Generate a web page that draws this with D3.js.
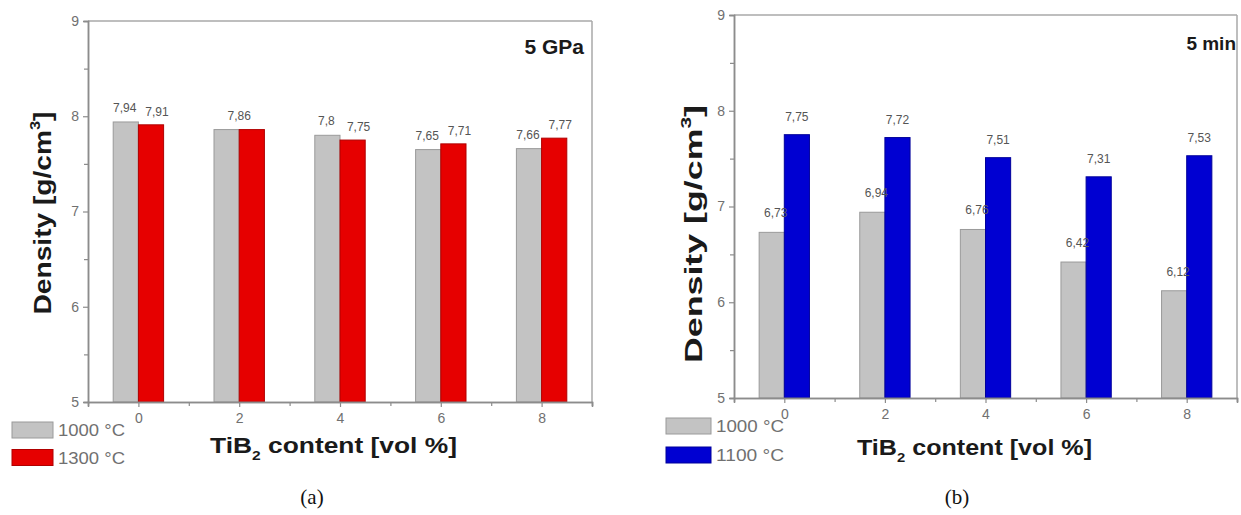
<!DOCTYPE html>
<html>
<head>
<meta charset="utf-8">
<script src="https://cdn.jsdelivr.net/npm/d3@7"></script>
<style>
  html, body { margin: 0; padding: 0; background: #fff; }
  svg { display: block; }
  text { font-family: Arial, "Liberation Sans", sans-serif; }
  text.caption { font-family: "Liberation Serif", "DejaVu Serif", serif; }
</style>
</head>
<body>
<svg id="fig" width="1241" height="515"></svg>
<script>
// TiB2 content categories (vol %)
const categories = [0, 2, 4, 6, 8];

// Panel (a): 5 GPa, sintering at two temperatures
const densityA1000 = [7.94, 7.86, 7.80, 7.65, 7.66];
const densityA1300 = [7.91, 7.86, 7.75, 7.71, 7.77];
const labelsA1000 = ["7,94", "7,86", "7,8", "7,65", "7,66"];
const labelsA1300 = ["7,91", "7,86", "7,75", "7,71", "7,77"];

// Panel (b): 5 min, sintering at two temperatures
const densityB1000 = [6.73, 6.94, 6.76, 6.42, 6.12];
const densityB1100 = [7.75, 7.72, 7.51, 7.31, 7.53];
const labelsB1000 = ["6,73", "6,94", "6,76", "6,42", "6,12"];
const labelsB1100 = ["7,75", "7,72", "7,51", "7,31", "7,53"];

// Axis ticks
const yTicks = [5, 6, 7, 8, 9];
const yMinorTicks = [5.5, 6.5, 7.5, 8.5];
const xTicks = [0, 2, 4, 6, 8];
const xMinorTicks = [1, 3, 5, 7, 9];

const svg = d3.select("#fig");

function drawPanel(p) {
  const x = d3.scaleLinear().domain([-1, 9]).range([p.left, p.right]);
  const y = d3.scaleLinear().domain([5, 9]).range([p.bottom, p.top]);
  const g = svg.append("g");
  const bw = x(0.5) - x(0);

  // frame (top and right)
  g.append("line").attr("x1", p.left).attr("x2", p.right).attr("y1", p.top).attr("y2", p.top)
    .attr("stroke", "#a8a8a8").attr("stroke-width", 1.5);
  g.append("line").attr("x1", p.right).attr("x2", p.right).attr("y1", p.top).attr("y2", p.bottom)
    .attr("stroke", "#a8a8a8").attr("stroke-width", 1.5);

  // bars
  const series = [
    { values: p.s1, color: "#c3c3c3", stroke: "#9a9a9a", offset: -0.5 },
    { values: p.s2, color: p.color2, stroke: p.stroke2, offset: 0 }
  ];
  series.forEach(s => {
    g.selectAll(null).data(categories).enter().append("rect")
      .attr("x", (c) => x(c + s.offset))
      .attr("width", bw)
      .attr("y", (c, i) => y(s.values[i]))
      .attr("height", (c, i) => y(5) - y(s.values[i]))
      .attr("fill", s.color)
      .attr("stroke", s.stroke)
      .attr("stroke-width", 1);
  });

  // axes
  const styleAxis = sel => {
    sel.selectAll("path.domain").attr("stroke", "#8c8c8c").attr("stroke-width", 1.5);
    sel.selectAll(".tick line").attr("stroke", "#8c8c8c").attr("stroke-width", 1.2);
    sel.selectAll(".tick text").attr("fill", "#707070").attr("font-size", 14);
  };
  g.append("g").attr("transform", `translate(${p.left},0)`)
    .call(d3.axisLeft(y).tickValues(yMinorTicks).tickSize(4).tickFormat(""))
    .call(styleAxis);
  g.append("g").attr("transform", `translate(0,${p.bottom})`)
    .call(d3.axisBottom(x).tickValues(xMinorTicks).tickSize(4).tickFormat(""))
    .call(styleAxis);
  g.append("g").attr("transform", `translate(${p.left},0)`)
    .call(d3.axisLeft(y).tickValues(yTicks).tickSize(5).tickPadding(4).tickFormat(d3.format("d")))
    .call(styleAxis);
  g.append("g").attr("transform", `translate(0,${p.bottom})`)
    .call(d3.axisBottom(x).tickValues(xTicks).tickSize(5).tickPadding(6).tickFormat(d3.format("d")))
    .call(styleAxis);

  // value labels (one shared label when both bars are equal)
  const lab = g.append("g").attr("fill", "#555").attr("font-size", 12).attr("text-anchor", "middle");
  categories.forEach((c, i) => {
    if (p.s1[i] === p.s2[i]) {
      lab.append("text").attr("x", x(c)).attr("y", y(p.s1[i]) - p.lift1).text(p.l1[i]);
    } else {
      lab.append("text").attr("x", x(c - 0.25) + p.dx1).attr("y", y(p.s1[i]) - p.lift1).text(p.l1[i]);
      lab.append("text").attr("x", x(c + 0.25) + p.dx2).attr("y", y(p.s2[i]) - p.lift2).text(p.l2[i]);
    }
  });

  // panel tag
  g.append("text").attr("x", p.tagX).attr("y", p.tagY).attr("text-anchor", "end")
    .attr("font-size", p.tagSize).attr("font-weight", "bold").attr("fill", "#1a1a1a").text(p.tag);

  // y title
  const yt = g.append("text")
    .attr("transform", `translate(${p.yTitleX},${p.yTitleY}) rotate(-90)`)
    .attr("text-anchor", "middle").attr("font-size", 24).attr("font-weight", "bold").attr("fill", "#1a1a1a")
    .attr("textLength", p.yTitleLen).attr("lengthAdjust", "spacingAndGlyphs");
  yt.append("tspan").text("Density [g/cm");
  yt.append("tspan").attr("font-size", 14).attr("dy", -11).text("3");
  yt.append("tspan").attr("dy", 11).text("]");

  // x title
  const xt = g.append("text")
    .attr("x", p.xTitleX).attr("y", p.xTitleY)
    .attr("font-size", 22).attr("font-weight", "bold").attr("fill", "#1a1a1a")
    .attr("textLength", p.xTitleLen).attr("lengthAdjust", "spacingAndGlyphs");
  xt.append("tspan").text("TiB");
  xt.append("tspan").attr("font-size", 13).attr("dy", 7).text("2");
  xt.append("tspan").attr("dy", -7).text(" content [vol %]");

  // legend
  const leg = [
    { name: p.name1, color: "#c3c3c3", stroke: "#9a9a9a" },
    { name: p.name2, color: p.color2, stroke: p.stroke2 }
  ];
  leg.forEach((d, i) => {
    const yy = p.legY + i * p.legStep;
    g.append("rect").attr("x", p.legX).attr("y", yy).attr("width", p.legW).attr("height", 16)
      .attr("fill", d.color).attr("stroke", d.stroke).attr("stroke-width", 1);
    g.append("text").attr("x", p.legX + p.legW + 5).attr("y", yy + 14)
      .attr("font-size", 16).attr("fill", "#707070")
      .attr("textLength", p.legTextLen).attr("lengthAdjust", "spacingAndGlyphs")
      .text(d.name);
  });

  // caption
  svg.append("text").attr("class", "caption").attr("x", p.capX).attr("y", p.capY).attr("text-anchor", "middle")
    .attr("font-size", 21).attr("fill", "#111").text(p.caption);
}

drawPanel({
  left: 88, right: 592, top: 21, bottom: 402,
  s1: densityA1000, s2: densityA1300, l1: labelsA1000, l2: labelsA1300,
  color2: "#e60000", stroke2: "#b00000",
  dx1: -1, dx2: 6, lift1: 10, lift2: 9,
  tag: "5 GPa", tagX: 584, tagY: 54, tagSize: 21,
  yTitleX: 51, yTitleY: 213, yTitleLen: 203,
  xTitleX: 210, xTitleY: 453, xTitleLen: 247,
  name1: "1000 °C", name2: "1300 °C",
  legX: 12, legY: 422, legStep: 27.5, legW: 41, legTextLen: 67,
  caption: "(a)", capX: 312, capY: 504
});

drawPanel({
  left: 734, right: 1237, top: 15, bottom: 398,
  s1: densityB1000, s2: densityB1100, l1: labelsB1000, l2: labelsB1100,
  color2: "#0000d2", stroke2: "#00009a",
  dx1: 4, dx2: 0, lift1: 15, lift2: 14,
  tag: "5 min", tagX: 1236, tagY: 50, tagSize: 19,
  yTitleX: 702, yTitleY: 234, yTitleLen: 258,
  xTitleX: 857, xTitleY: 455, xTitleLen: 235,
  name1: "1000 °C", name2: "1100 °C",
  legX: 666, legY: 418, legStep: 29, legW: 45, legTextLen: 68,
  caption: "(b)", capX: 957, capY: 504
});
</script>
</body>
</html>
